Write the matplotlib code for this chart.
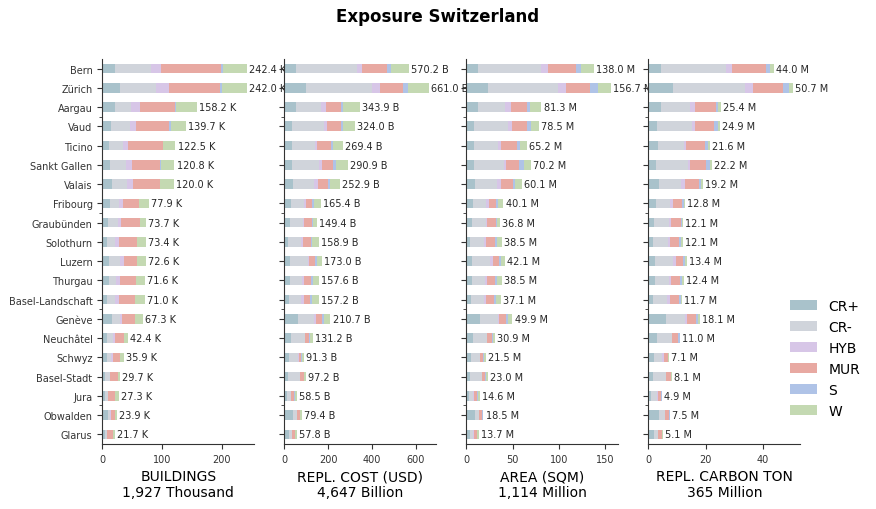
import numpy as np
import matplotlib
matplotlib.use('Agg')
import matplotlib.pyplot as plt

cantons = ['Bern', 'Zürich', 'Aargau', 'Vaud', 'Ticino', 'Sankt Gallen', 'Valais',
           'Fribourg', 'Graubünden', 'Solothurn', 'Luzern', 'Thurgau',
           'Basel-Landschaft', 'Genève', 'Neuchâtel', 'Schwyz', 'Basel-Stadt',
           'Jura', 'Obwalden', 'Glarus']
types = ['CR+', 'CR-', 'HYB', 'MUR', 'S', 'W']
colors = ['#a9c2cb', '#d0d4db', '#d7c6e7', '#e8a9a2', '#afc3e7', '#c4d9b2']

# rows = cantons, columns = types
buildings = [
    [21.0, 61.0, 17.0, 100.0, 3.0, 40.4],
    [29.4, 60.0, 21.7, 86.7, 2.8, 41.4],
    [21.0, 26.7, 15.0, 59.4, 1.7, 34.4],
    [14.4, 31.7, 10.0, 56.1, 2.2, 25.3],
    [11.1, 23.3, 8.3, 58.3, 1.1, 20.4],
    [12.8, 26.7, 10.0, 46.7, 2.2, 22.4],
    [16.1, 25.0, 10.0, 45.0, 0.5, 23.4],
    [12.8, 15.0, 6.7, 26.7, 0.5, 16.2],
    [9.4, 16.1, 5.6, 31.7, 0.3, 10.6],
    [7.8, 13.3, 6.7, 30.0, 0.4, 15.2],
    [11.1, 18.3, 6.7, 21.7, 0.5, 14.3],
    [11.1, 11.7, 6.7, 26.7, 0.5, 14.9],
    [7.8, 13.3, 6.7, 26.7, 0.5, 16.0],
    [16.1, 13.3, 3.3, 21.7, 0.5, 12.4],
    [7.8, 10.0, 3.3, 15.0, 0.3, 6.0],
    [7.8, 6.7, 3.3, 11.7, 0.2, 6.2],
    [4.4, 8.3, 0.5, 12.8, 0.1, 3.6],
    [4.4, 4.4, 0.5, 11.7, 0.2, 6.1],
    [9.4, 3.3, 1.7, 6.7, 0.1, 2.7],
    [4.4, 3.3, 0.5, 9.4, 0.1, 4.0],
]
repl_cost = [
    [51.5, 278.8, 25.8, 113.6, 18.2, 82.3],
    [97.0, 304.5, 36.4, 104.5, 24.2, 94.4],
    [51.5, 116.7, 24.2, 68.2, 9.1, 74.2],
    [33.3, 145.5, 18.2, 63.6, 9.1, 54.3],
    [33.3, 106.0, 7.6, 68.2, 9.1, 45.2],
    [33.3, 122.7, 18.2, 50.0, 13.6, 53.1],
    [37.9, 95.5, 18.2, 45.5, 9.1, 46.7],
    [28.8, 59.1, 9.1, 27.3, 9.1, 32.0],
    [24.2, 59.1, 4.5, 36.4, 4.5, 20.7],
    [15.2, 59.1, 9.1, 36.4, 4.5, 34.6],
    [24.2, 81.8, 6.1, 25.8, 9.1, 26.0],
    [24.2, 54.5, 9.1, 31.8, 9.1, 28.9],
    [19.7, 54.5, 13.6, 27.3, 9.1, 33.0],
    [60.6, 72.7, 9.1, 31.8, 9.1, 27.4],
    [28.8, 63.6, 3.0, 15.2, 4.5, 16.1],
    [19.7, 40.9, 4.5, 9.1, 4.5, 12.6],
    [15.2, 54.5, 1.5, 16.7, 0.5, 8.8],
    [10.6, 18.2, 1.5, 12.1, 4.5, 11.6],
    [37.9, 18.2, 1.5, 12.1, 3.0, 6.7],
    [19.7, 13.6, 1.5, 12.1, 3.0, 7.9],
]
area = [
    [12.3, 69.0, 7.3, 30.5, 5.4, 13.5],
    [23.2, 76.2, 8.7, 26.1, 8.0, 14.5],
    [12.3, 29.4, 6.5, 17.4, 2.9, 12.8],
    [8.0, 37.0, 4.4, 16.3, 4.4, 8.4],
    [8.0, 26.1, 3.3, 17.4, 3.3, 7.1],
    [8.0, 32.7, 2.2, 14.2, 5.4, 7.7],
    [9.1, 24.0, 4.4, 13.1, 2.2, 7.3],
    [6.9, 14.2, 3.3, 7.6, 2.2, 5.9],
    [5.8, 15.2, 1.1, 9.8, 1.1, 3.8],
    [3.6, 15.2, 2.2, 9.8, 2.2, 5.5],
    [5.8, 19.6, 3.3, 6.5, 2.2, 4.7],
    [5.8, 14.2, 2.2, 8.7, 2.2, 5.4],
    [4.7, 14.2, 2.2, 8.7, 2.2, 5.1],
    [14.5, 19.6, 0.7, 8.0, 2.2, 4.9],
    [6.9, 15.2, 0.7, 4.7, 1.1, 2.3],
    [4.7, 9.8, 0.4, 3.6, 0.7, 2.3],
    [3.6, 13.1, 0.4, 3.3, 0.4, 2.2],
    [2.5, 4.4, 1.1, 3.3, 1.1, 2.2],
    [9.1, 4.4, 0.4, 2.9, 0.7, 1.0],
    [3.6, 4.0, 0.4, 3.3, 0.7, 1.7],
]
carbon = [
    [4.4, 22.8, 2.1, 11.8, 1.5, 1.4],
    [8.7, 25.3, 2.8, 10.5, 1.8, 1.6],
    [4.4, 10.2, 1.8, 7.1, 0.7, 1.2],
    [3.0, 12.3, 1.1, 6.7, 1.2, 0.6],
    [3.4, 8.9, 0.9, 6.7, 1.1, 0.6],
    [2.7, 11.0, 0.9, 5.6, 1.2, 0.8],
    [3.7, 7.7, 1.4, 4.9, 0.7, 0.8],
    [2.7, 4.9, 1.1, 3.2, 0.5, 0.4],
    [2.0, 5.3, 0.7, 3.5, 0.35, 0.25],
    [1.6, 5.3, 0.7, 3.2, 0.7, 0.6],
    [2.3, 6.3, 1.1, 2.5, 0.7, 0.5],
    [2.3, 4.9, 0.7, 3.2, 0.7, 0.6],
    [1.6, 4.9, 1.1, 3.2, 0.6, 0.3],
    [6.2, 6.7, 0.7, 3.2, 0.7, 0.6],
    [3.0, 5.3, 0.1, 2.0, 0.5, 0.1],
    [2.0, 2.7, 0.7, 1.4, 0.2, 0.1],
    [1.6, 4.6, 0.1, 1.6, 0.1, 0.1],
    [0.9, 2.2, 0.1, 1.3, 0.2, 0.2],
    [3.7, 2.1, 0.1, 1.3, 0.2, 0.1],
    [2.0, 1.3, 0.1, 1.3, 0.2, 0.2],
]

panel_titles = ['BUILDINGS', 'REPL. COST (USD)', 'AREA (SQM)', 'REPL. CARBON TON']
panel_totals = ['1,927 Thousand', '4,647 Billion', '1,114 Million', '365 Million']
panel_units = ['K', 'B', 'M', 'M']
panel_data = [buildings, repl_cost, area, carbon]

plt.rcParams['font.family'] = 'DejaVu Sans'
plt.rcParams['axes.edgecolor'] = '#333333'
plt.rcParams['xtick.color'] = '#333333'
plt.rcParams['ytick.color'] = '#333333'

fig = plt.figure(figsize=(8.76, 5.1), dpi=100)
fig.suptitle('Exposure Switzerland', fontsize=12, fontweight='bold', y=0.985)

left0, bottom, width, height, step = 0.1168, 0.1275, 0.1735, 0.755, 0.2078

for p in range(4):
    ax = fig.add_axes([left0 + p * step, bottom, width, height])
    vals = np.array(panel_data[p])
    lefts = np.zeros(len(cantons))
    for j, t in enumerate(types):
        ax.barh(cantons, vals[:, j], left=lefts, height=0.5, color=colors[j],
                label=t, linewidth=0)
        lefts = lefts + vals[:, j]
    for i in range(len(cantons)):
        ax.annotate('%.1f %s' % (lefts[i], panel_units[p]), xy=(lefts[i], i),
                    xytext=(1.5, 0), textcoords='offset points', va='center',
                    ha='left', fontsize=7, color='#262626')
    ax.set_ylim(len(cantons) - 0.5, -0.5)
    ax.set_xlim(0, lefts.max() * 1.05)
    ax.set_yticks([2.5, 7.5, 12.5, 17.5], minor=True)
    ax.tick_params(axis='y', which='minor', length=2)
    ax.tick_params(axis='both', which='major', labelsize=7, length=3.5)
    if p > 0:
        ax.set_yticklabels([])
    ax.spines['top'].set_visible(False)
    ax.spines['right'].set_visible(False)
    ax.set_xlabel(panel_titles[p] + '\n' + panel_totals[p], fontsize=10)
    if p == 0:
        handles, labels = ax.get_legend_handles_labels()

fig.legend(handles, labels, loc='center left', bbox_to_anchor=(0.887, 0.295),
           frameon=False, fontsize=10)

plt.savefig('out.png', dpi=100)
